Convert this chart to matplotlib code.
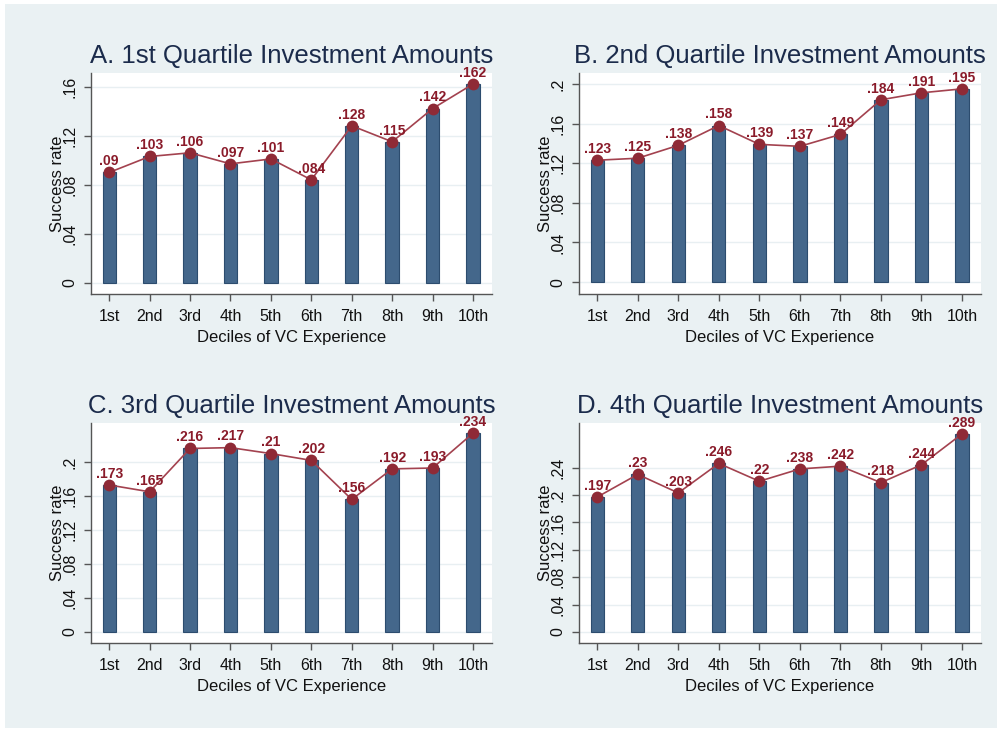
import matplotlib
matplotlib.use("Agg")
import matplotlib.pyplot as plt
from matplotlib.patches import Rectangle
from matplotlib.ticker import FuncFormatter

plt.rcParams['font.family'] = ['Liberation Sans', 'DejaVu Sans']

deciles = ["1st", "2nd", "3rd", "4th", "5th", "6th", "7th", "8th", "9th", "10th"]

titles = ["A. 1st Quartile Investment Amounts",
          "B. 2nd Quartile Investment Amounts",
          "C. 3rd Quartile Investment Amounts",
          "D. 4th Quartile Investment Amounts"]

q1_rates = [0.090, 0.103, 0.106, 0.097, 0.101, 0.084, 0.128, 0.115, 0.142, 0.162]
q2_rates = [0.123, 0.125, 0.138, 0.158, 0.139, 0.137, 0.149, 0.184, 0.191, 0.195]
q3_rates = [0.173, 0.165, 0.216, 0.217, 0.210, 0.202, 0.156, 0.192, 0.193, 0.234]
q4_rates = [0.197, 0.230, 0.203, 0.246, 0.220, 0.238, 0.242, 0.218, 0.244, 0.289]

q1_ticks = [0, 0.04, 0.08, 0.12, 0.16]
q2_ticks = [0, 0.04, 0.08, 0.12, 0.16, 0.2]
q3_ticks = [0, 0.04, 0.08, 0.12, 0.16, 0.2]
q4_ticks = [0, 0.04, 0.08, 0.12, 0.16, 0.2, 0.24]

series = [q1_rates, q2_rates, q3_rates, q4_rates]
ticks = [q1_ticks, q2_ticks, q3_ticks, q4_ticks]
ylims = [(-0.009, 0.171), (-0.012, 0.211), (-0.013, 0.246), (-0.016, 0.305)]

W, H = 1002, 732
fig = plt.figure(figsize=(W / 100, H / 100), dpi=100, facecolor='white')
fig.patches.append(Rectangle((5 / W, 4 / H), (W - 10) / W, (H - 8) / H,
                             transform=fig.transFigure, facecolor='#eaf1f3',
                             edgecolor='none', zorder=-10))

# axes boxes in pixels: left, top, right, bottom
boxes = [(91, 73, 492, 294), (579, 73, 981, 294),
         (91, 423, 492, 643), (579, 423, 981, 643)]

bar_color = '#44678b'
bar_edge = '#2c4c6e'
line_color = '#a3424f'
marker_color = '#8f2a36'
label_color = '#8a1b2a'
title_color = '#1b2b4b'
axis_color = '#555555'


def fmt(v, pos):
    if abs(v) < 1e-12:
        return "0"
    s = ("%.3f" % v).rstrip('0')
    if s.startswith('0'):
        s = s[1:]
    return s


for i in range(4):
    l, t, r, b = boxes[i]
    ax = fig.add_axes([l / W, 1 - b / H, (r - l) / W, (b - t) / H])
    ax.set_facecolor('white')
    x = list(range(1, 11))
    vals = series[i]
    ax.bar(x, vals, width=0.33, color=bar_color, edgecolor=bar_edge,
           linewidth=0.8, zorder=2)
    ax.plot(x, vals, color=line_color, lw=1.2, zorder=3)
    ax.plot(x, vals, 'o', color=marker_color, markersize=8.5, zorder=4,
            markeredgewidth=0)
    for xi, v in zip(x, vals):
        ax.annotate(fmt(v, None), (xi, v),
                    xytext=(0, 3), textcoords='offset points',
                    ha='center', va='bottom', fontsize=10,
                    fontweight='bold', color=label_color, zorder=5)
    ax.set_xlim(0.55, 10.47)
    ax.set_ylim(*ylims[i])
    ax.set_xticks(x)
    ax.set_xticklabels(deciles, fontsize=11.5, color='#111111')
    ax.set_yticks(ticks[i])
    ax.yaxis.set_major_formatter(FuncFormatter(fmt))
    for lab in ax.get_yticklabels():
        lab.set_rotation(90)
        lab.set_va('center')
        lab.set_fontsize(11.5)
        lab.set_color('#111111')
    ax.grid(axis='y', color='#e8eff2', lw=1.0, zorder=0)
    ax.set_axisbelow(True)
    for s in ['top', 'right']:
        ax.spines[s].set_visible(False)
    for s in ['left', 'bottom']:
        ax.spines[s].set_color(axis_color)
        ax.spines[s].set_linewidth(1.0)
    ax.tick_params(axis='both', direction='out', length=5, width=1,
                   color=axis_color, pad=5)
    ax.tick_params(axis='x', pad=6)
    ax.set_xlabel("Deciles of VC Experience", fontsize=12,
                  color='#111111', labelpad=4)
    ax.set_ylabel("Success rate", fontsize=12, color='#111111',
                  labelpad=-2)
    ax.set_title(titles[i], fontsize=18.5, color=title_color, pad=7)

fig.savefig("out.png", dpi=100, facecolor='white')
